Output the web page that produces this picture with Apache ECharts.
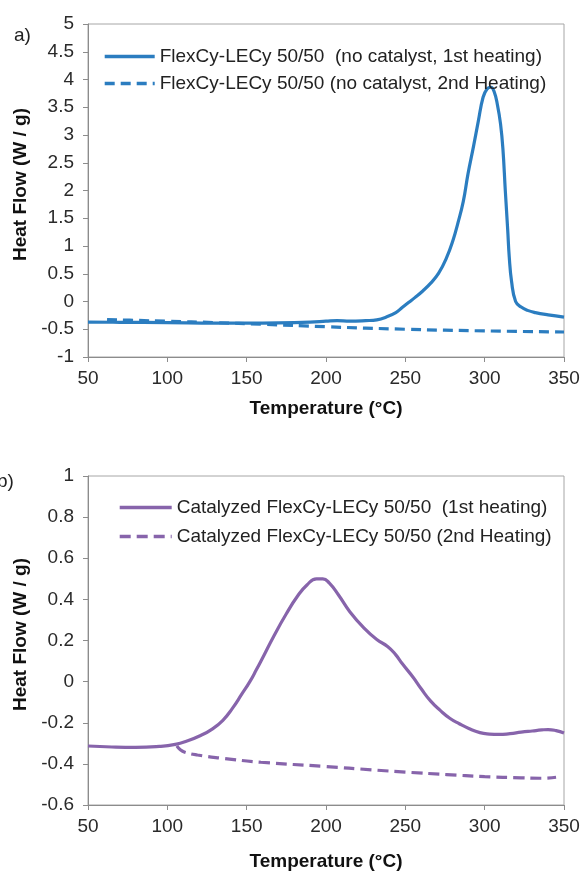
<!DOCTYPE html>
<html>
<head>
<meta charset="utf-8">
<script src="https://cdn.jsdelivr.net/npm/echarts@6/dist/echarts.min.js"></script>
<style>
  html, body { margin: 0; padding: 0; background: #fff; }
  #chart { width: 584px; height: 872px; }
</style>
</head>
<body>
<div id="chart"></div>
<script>
// ---- Data ----
var xTicks = [50, 100, 150, 200, 250, 300, 350];

var legendA1 = 'FlexCy-LECy 50/50  (no catalyst, 1st heating)';
var legendA2 = 'FlexCy-LECy 50/50 (no catalyst, 2nd Heating)';
var legendB1 = 'Catalyzed FlexCy-LECy 50/50  (1st heating)';
var legendB2 = 'Catalyzed FlexCy-LECy 50/50 (2nd Heating)';

var a1Temp = [50, 70, 100, 130, 150, 170, 190, 200, 207, 215, 225, 232, 238, 244, 248, 252, 256, 261, 266, 271, 276, 280, 283, 286.5, 289.5, 293, 296, 299, 301.5, 304, 306, 308, 310, 311.5, 313, 314.5, 315.5, 317, 319.5, 323, 327, 332, 340, 350];
var a1Heat = [-0.37, -0.375, -0.38, -0.39, -0.39, -0.385, -0.37, -0.355, -0.345, -0.355, -0.345, -0.33, -0.28, -0.2, -0.11, -0.02, 0.07, 0.19, 0.33, 0.51, 0.79, 1.1, 1.4, 1.8, 2.3, 2.8, 3.25, 3.68, 3.83, 3.86, 3.78, 3.55, 3.2, 2.75, 2.0, 1.3, 0.8, 0.35, 0.0, -0.1, -0.16, -0.2, -0.24, -0.28];

var a2Temp = [62, 80, 100, 130, 160, 200, 250, 300, 350];
var a2Heat = [-0.325, -0.34, -0.355, -0.38, -0.41, -0.455, -0.5, -0.53, -0.55];

var b1Temp = [50, 65, 80, 95, 105, 112, 121, 128, 135, 141, 147, 152, 156, 161, 167, 175, 182, 188, 194, 198, 202, 208, 215, 224, 232, 239, 244, 248, 255, 260, 266, 272, 278, 284, 290, 297, 303, 309, 316, 323, 330, 336, 340, 345, 350];
var b1Heat = [-0.313, -0.318, -0.32, -0.315, -0.305, -0.29, -0.262, -0.232, -0.188, -0.13, -0.06, 0.0, 0.056, 0.13, 0.22, 0.33, 0.415, 0.47, 0.5, 0.5, 0.48, 0.42, 0.34, 0.26, 0.205, 0.17, 0.13, 0.088, 0.02, -0.035, -0.095, -0.14, -0.178, -0.205, -0.228, -0.248, -0.255, -0.257, -0.253, -0.246, -0.24, -0.235, -0.233, -0.238, -0.25];

var b2Temp = [106, 108, 111, 119, 135, 159, 200, 229, 250, 276, 300, 323, 335, 345];
var b2Heat = [-0.313, -0.33, -0.343, -0.357, -0.373, -0.392, -0.413, -0.429, -0.44, -0.452, -0.462, -0.468, -0.47, -0.465];

function pairs(xs, ys) { return xs.map(function (x, i) { return [x, ys[i]]; }); }

var FONT = '"Liberation Sans", Arial, sans-serif';
var BLUE = '#2B7DC0';
var PURPLE = '#8764AB';
var AXIS = '#8c8c8c';

function xAxisCfg(grid, gap) {
  return {
    type: 'value', gridIndex: grid, min: xTicks[0], max: xTicks[xTicks.length - 1], interval: 50,
    name: 'Temperature (°C)', nameLocation: 'middle', nameGap: gap,
    nameTextStyle: { fontFamily: FONT, fontSize: 19, fontWeight: 'bold', color: '#111' },
    axisLine: { show: true, onZero: false, lineStyle: { color: AXIS, width: 1 } },
    axisTick: { show: true, length: 5, lineStyle: { color: AXIS } },
    axisLabel: { margin: 12, fontFamily: FONT, fontSize: 19, color: '#2a2a2a' },
    splitLine: { show: false }
  };
}
function yAxisCfg(grid, min, max, interval) {
  return {
    type: 'value', gridIndex: grid, min: min, max: max, interval: interval,
    name: 'Heat Flow (W / g)', nameLocation: 'middle', nameGap: 50, nameRotate: 90,
    nameTextStyle: { fontFamily: FONT, fontSize: 19, fontWeight: 'bold', color: '#111', padding: [0, 0, 0, 12] },
    axisLine: { show: true, onZero: false, lineStyle: { color: AXIS, width: 1 } },
    axisTick: { show: true, length: 5, lineStyle: { color: AXIS } },
    axisLabel: { margin: 14, fontFamily: FONT, fontSize: 19, color: '#2a2a2a' },
    splitLine: { show: false }
  };
}

var chart = echarts.init(document.getElementById('chart'), null, { renderer: 'canvas' });
chart.setOption({
  backgroundColor: '#fff',
  animation: false,
  grid: [
    { left: 88, top: 24, width: 476, height: 333, show: true, borderColor: '#a6a6a6', borderWidth: 1 },
    { left: 88, top: 476, width: 476, height: 334, show: true, borderColor: '#a6a6a6', borderWidth: 1 }
  ],
  xAxis: [xAxisCfg(0, 42), xAxisCfg(1, 47)],
  yAxis: [yAxisCfg(0, -1, 5, 0.5), yAxisCfg(1, -0.6, 1, 0.2)],
  legend: [
    {
      orient: 'vertical', left: 98, top: 42, itemWidth: 50, itemHeight: 14, itemGap: 8,
      itemStyle: { opacity: 0 }, lineStyle: { width: 3.4 },
      textStyle: { fontFamily: FONT, fontSize: 19, color: '#222' },
      data: [legendA1, legendA2]
    },
    {
      orient: 'vertical', left: 113, top: 493, itemWidth: 52, itemHeight: 14, itemGap: 10,
      itemStyle: { opacity: 0 }, lineStyle: { width: 3.4 },
      textStyle: { fontFamily: FONT, fontSize: 19, color: '#222' },
      data: [legendB1, legendB2]
    }
  ],
  graphic: [
    { type: 'text', left: 14, top: 26, style: { text: 'a)', font: '19px ' + FONT, fill: '#222' } },
    { type: 'text', left: -3, top: 472, style: { text: 'b)', font: '19px ' + FONT, fill: '#222' } }
  ],
  series: [
    {
      name: legendA1, type: 'line', xAxisIndex: 0, yAxisIndex: 0, data: pairs(a1Temp, a1Heat),
      symbol: 'none', smooth: 0.45,
      lineStyle: { color: BLUE, width: 3.2 }, itemStyle: { color: BLUE }
    },
    {
      name: legendA2, type: 'line', xAxisIndex: 0, yAxisIndex: 0, data: pairs(a2Temp, a2Heat),
      symbol: 'none', smooth: 0.45,
      lineStyle: { color: BLUE, width: 3.2, type: [10, 6] }, itemStyle: { color: BLUE }
    },
    {
      name: legendB1, type: 'line', xAxisIndex: 1, yAxisIndex: 1, data: pairs(b1Temp, b1Heat),
      symbol: 'none', smooth: 0.5,
      lineStyle: { color: PURPLE, width: 3.2 }, itemStyle: { color: PURPLE }
    },
    {
      name: legendB2, type: 'line', xAxisIndex: 1, yAxisIndex: 1, data: pairs(b2Temp, b2Heat),
      symbol: 'none', smooth: 0.5,
      lineStyle: { color: PURPLE, width: 3.2, type: [11, 6] }, itemStyle: { color: PURPLE }
    }
  ]
});
</script>
</body>
</html>
